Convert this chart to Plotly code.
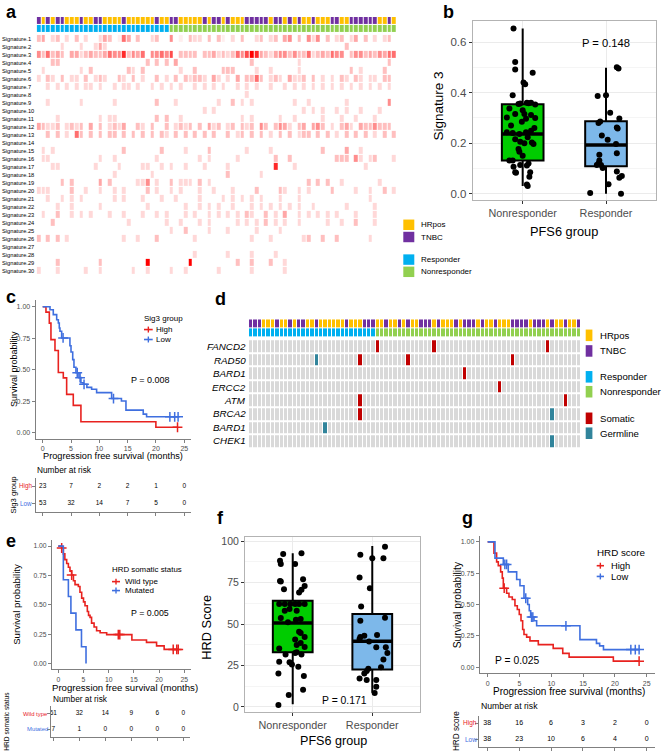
import plotly.graph_objects as go

W, H = 662, 755
FONT = "Liberation Sans, Arial, Helvetica, sans-serif"

# ---------------- colours ----------------
C_HR, C_TN = "#FFC000", "#7030A0"
C_RESP, C_NONR = "#00B0F0", "#92D050"
C_SOM, C_GERM, C_GRAY = "#C00000", "#31849B", "#D9D9D9"
C_RED, C_BLUE = "#E8221F", "#3F6FDF"
C_GBOX, C_BBOX = "#00CC00", "#7DB8EA"

# ---------------- panel a data ----------------
sig_names = [f"Signature.{i}" for i in range(1, 31)]
sig_levels = [
    "3402302030200243016403002300501032203031020300230230450305250302302403020230",
    "0000020002002420000000000000000000000000000000000000000000000000030000000000",
    "5363430442343346558354605565703333033423236579843245535336234365503553435466",
    "0003300000000000000000030303040000000000000003000000000200000000000000000030",
    "0200000002030000000320300000002003000003330000200200000200000000003020000300",
    "2032030220302320032030200302030323320420204033630232042230302020320320220330",
    "0020202020220200202202002020202002020202002020200200202020202020202020202020",
    "0000000000000000000000000000000000000000000020000000000000000000000000000000",
    "0020000002000000200000000300020000000020030202000000002002000000020000000050",
    "0000000000000000000000000000000000020200000000000000000020202002020020002000",
    "0000200000000202200000000303002000000000000202000002002000002000200200020000",
    "4322302323040302324003203003023230304230230323053035420340453020342043353330",
    "0030302063030303303030303032030303030300302303030203030233030302030303020303",
    "0000000000000000000000000000000000000000000000000000000000000000000000000000",
    "0202000000000000003000000030000200003000000020000200000000003000040020000000",
    "0220000000000200200000000200000000202000002000000030030000000003330520230002",
    "0002200000002000020000220020200200020000200000000080002000000000000002000000",
    "0000000000000000200000002000000000000000300000020000000000000000000000000000",
    "0000030300000403000002250200302220302000000000000000000003030300200000002000",
    "2220000300200200202000030200202000200200020000300003200202000030000200200302",
    "0020020202000000202000200020020000200002020202020002000200000000000000200000",
    "0000200200000200000000020000000200202020020002020202020200200000020000020000",
    "0200300202020002002000200202000202002020202032003020400202020202000200020000",
    "0003000000000000000200000002002000202000002020203020200200000200200300020000",
    "0000000000000000000000000000200300002000200000200002000000000000000000000000",
    "3030302000000000002002000300000002000000000002000200000023003003000000200000",
    "0000000000000000000000000000000000000000000000000000000000000000000000000000",
    "0000000000000000000000000000000002000000200002000020000000000000000000000000",
    "0000300000000300000000090000000090000000003003000300200000000000000000000000",
    "2000200000200200000020020000200200000020000002000000200000000000000000000000",
]
N_SAMPLES = 76
a_tumor = "TYTYTTYYYTYYTTYYYYTYYYYYYTYYTTYYYYYTYTTYTYYYTTTTTYTTYTYTYYTYYYTTYYTTTTTTYYTY"
a_n_resp = 28

# ---------------- panel b data ----------------
b_groups = ["Nonresponder", "Responder"]
b_q1 = [0.131, 0.109]
b_med = [0.236, 0.193]
b_q3 = [0.354, 0.287]
b_lo = [0.030, 0.0]
b_hi = [0.654, 0.499]
b_nr_val = [0.654, 0.521, 0.492, 0.479, 0.44, 0.433, 0.39, 0.355, 0.357, 0.36, 0.358, 0.36, 0.353,
            0.337, 0.316, 0.316, 0.312, 0.302, 0.300, 0.285, 0.297, 0.243, 0.240, 0.236, 0.243, 0.249,
            0.223, 0.216, 0.206, 0.203, 0.197, 0.177, 0.166, 0.131, 0.131, 0.114, 0.112, 0.085, 0.107,
            0.085, 0.083, 0.067, 0.036, 0.030, 0.12, 0.15, 0.27, 0.20, 0.33, 0.26]
b_nr_jit = [-0.11, -0.09, -0.09, 0.12, 0.01, 0.03, -0.12, -0.05, -0.03, 0.05, 0.07, 0.10, 0.15,
            -0.16, -0.09, 0.02, 0.10, -0.19, 0.15, -0.01, 0.04, -0.19, -0.12, -0.04, 0.04, 0.10,
            0.06, -0.09, -0.03, 0.11, 0.13, -0.05, -0.04, -0.16, -0.12, -0.03, 0.05, 0.09, -0.11,
            -0.09, -0.08, 0.08, 0.05, 0.06, 0.07, 0.0, -0.14, 0.02, 0.0, 0.14]
b_r_val = [0.501, 0.496, 0.39, 0.387, 0.32, 0.286, 0.298, 0.262, 0.258, 0.23, 0.214, 0.197, 0.16,
           0.154, 0.131, 0.114, 0.114, 0.102, 0.088, 0.07, 0.063, 0.037, 0.003, 0.0, 0.12, 0.28]
b_r_jit = [0.13, 0.15, 0.0, -0.10, 0.05, -0.07, 0.16, 0.13, 0.14, -0.05, 0.02, 0.12, 0.13,
           -0.08, -0.08, -0.11, -0.06, -0.04, 0.13, 0.19, 0.16, 0.03, -0.19, 0.18, -0.09, -0.09]
b_pval = "P = 0.148"

# ---------------- panel c data ----------------
c_high_t = [0, 0.58, 1.17, 1.46, 2.17, 2.76, 3.64, 4.23, 5.4, 6.75, 19.98, 23.8]
c_high_s = [1.0, 0.957, 0.87, 0.739, 0.652, 0.478, 0.435, 0.304, 0.217, 0.087, 0.043, 0.043]
c_high_ct, c_high_cs = [23.8], [0.043]
c_low_t = [0, 1.29, 1.87, 2.47, 2.76, 2.93, 3.05, 3.35, 4.81, 5.0, 5.3, 5.52, 5.87, 6.4, 6.75,
           7.17, 7.8, 8.64, 9.52, 12.17, 13.9, 14.7, 17.75, 18.34, 23.9]
c_low_s = [1.0, 0.976, 0.937, 0.897, 0.871, 0.831, 0.805, 0.752, 0.69, 0.64, 0.58, 0.52, 0.476,
           0.437, 0.397, 0.384, 0.36, 0.345, 0.318, 0.271, 0.252, 0.179, 0.147, 0.126, 0.126]
c_low_ct = [3.6, 6.1, 6.6, 7.3, 12.5, 22.45, 23.3, 23.9]
c_low_cs = [0.752, 0.476, 0.437, 0.384, 0.271, 0.126, 0.126, 0.126]
risk_times = [0, 5, 10, 15, 20, 25]
c_risk_high = [23, 7, 2, 2, 1, 0]
c_risk_low = [53, 32, 14, 7, 5, 0]

# ---------------- panel d data ----------------
d_genes = ["FANCD2", "RAD50", "BARD1", "ERCC2", "ATM", "BRCA2", "BARD1", "CHEK1"]
d_tumor = "TTTYYYTYYTYTTYYTYYYYYYTYYYTTTYYTYYTYTYYTTTYTYYYTYTTTYTYYTYYYTTTTYTTTYTYYTYYT"
d_n_resp = 29
d_somatic = [(0, 29), (0, 42), (0, 68), (1, 25), (1, 36), (1, 60), (2, 49), (3, 57),
             (4, 25), (4, 72), (5, 25)]
d_germline = [(1, 15), (5, 69), (6, 17), (7, 69)]

# ---------------- panel e data ----------------
e_wt_t = [0, 0.67, 1.0, 1.3, 1.66, 2.0, 2.32, 2.65, 3.0, 3.32, 3.98, 4.3, 4.64, 5.0, 5.3, 5.76,
          6.0, 6.3, 6.6, 7.1, 7.6, 8.3, 9.6, 14.6, 17.5, 19.5, 21.0, 23.8]
e_wt_s = [1.0, 0.984, 0.934, 0.885, 0.852, 0.82, 0.787, 0.754, 0.705, 0.672, 0.656, 0.607, 0.557,
          0.525, 0.492, 0.443, 0.41, 0.393, 0.344, 0.311, 0.279, 0.262, 0.246, 0.20, 0.18, 0.15,
          0.12, 0.12]
e_wt_ct = [0.67, 2.65, 11.9, 12.2, 22.8, 23.5, 23.8]
e_wt_cs = [0.984, 0.754, 0.246, 0.246, 0.12, 0.12, 0.12]
e_mut_t = [0, 1.0, 2.0, 2.5, 3.5, 4.6, 5.5]
e_mut_s = [1.0, 0.714, 0.571, 0.429, 0.286, 0.143, 0.0]
e_risk_wt = [61, 32, 14, 9, 6, 0]
e_risk_mut = [7, 1, 0, 0, 0, 0]

# ---------------- panel f data ----------------
f_q1 = [33.0, 22.6]
f_med = [50.6, 39.6]
f_q3 = [64.0, 56.0]
f_lo = [1.6, 8.6]
f_hi = [92.6, 97.0]
f_nr_val = [1.2, 7.2, 10.4, 20.2, 18.6, 27.2, 27, 25.6, 24.2, 31.6, 31.6, 32.6, 35.2, 36.2, 37.4,
            38.6, 40.6, 45.4, 44.6, 42.2, 53.6, 52.6, 53, 58, 59, 58, 62, 62, 62, 62, 62, 62, 71,
            73, 77, 69, 70.6, 75.6, 76, 88.2, 86.2, 86.2, 92.2, 92.6, 51, 33]
f_nr_jit = [-0.18, -0.05, 0.13, -0.18, 0.14, -0.17, -0.04, -0.01, 0.07, -0.09, 0.11, 0.03, -0.17,
            0.15, 0.05, 0.10, 0.03, 0.08, 0.10, 0.15, -0.15, 0.04, 0.10, -0.10, -0.04, 0.05, -0.17,
            -0.10, -0.03, 0.03, 0.08, 0.15, -0.11, 0.15, 0.13, 0.08, 0.11, -0.15, -0.16, -0.16,
            -0.15, 0.03, -0.12, 0.11, -0.06, 0.05]
f_r_val = [96.6, 89.6, 91.8, 89.6, 78, 71.6, 60.6, 52, 53.8, 41, 43, 39.4, 43.4, 42.2, 36, 36,
           32.6, 28.6, 24, 23, 21.6, 20.2, 17.2, 16.2, 16.2, 12.2, 8.4]
f_r_jit = [0.16, 0.14, -0.15, 0.0, -0.16, -0.03, -0.14, -0.15, 0.16, -0.16, -0.10, -0.04, 0.06,
           -0.15, 0.05, 0.17, 0.19, 0.14, 0.11, -0.05, -0.07, -0.10, -0.16, -0.07, 0.05, 0.05, 0.03]
f_pval = "P = 0.171"

# ---------------- panel g data ----------------
g_high_t = [0, 0.99, 1.41, 1.67, 2.04, 2.3, 2.46, 2.98, 3.35, 3.87, 4.29, 4.66, 4.97, 5.24, 5.5,
            5.71, 6.13, 6.65, 7.96, 10.3, 11.8, 12.8, 19.75, 23.8]
g_high_s = [1.0, 0.91, 0.84, 0.81, 0.76, 0.71, 0.63, 0.59, 0.56, 0.54, 0.49, 0.46, 0.42, 0.37,
            0.30, 0.26, 0.24, 0.21, 0.18, 0.15, 0.11, 0.08, 0.048, 0.048]
g_high_ct, g_high_cs = [2.6, 23.8], [0.63, 0.048]
g_low_t = [0, 1.15, 2.46, 3.24, 4.56, 5.08, 5.71, 6.29, 6.54, 6.76, 7.28, 7.7, 14.5, 17.1, 17.6,
           18.2, 23.8]
g_low_s = [1.0, 0.87, 0.82, 0.76, 0.70, 0.65, 0.55, 0.50, 0.45, 0.40, 0.37, 0.33, 0.22, 0.19,
           0.17, 0.14, 0.14]
g_low_ct = [2.7, 2.98, 5.99, 6.9, 7.1, 12.3, 22.5, 23.2, 23.8]
g_low_cs = [0.82, 0.82, 0.55, 0.40, 0.40, 0.33, 0.14, 0.14, 0.14]
g_risk_high = [38, 16, 6, 3, 2, 0]
g_risk_low = [38, 23, 10, 6, 4, 0]

# =====================================================================
fig = go.Figure()
annotations, shapes = [], []
layout = dict(width=W, height=H, margin=dict(l=0, r=0, t=0, b=0),
              paper_bgcolor="white", plot_bgcolor="white", showlegend=False,
              font=dict(family=FONT, color="black"))


def dx(a, b):
    return [a / W, b / W]


def dy(top, bot):
    return [1 - bot / H, 1 - top / H]


def axkey(n, c):
    return f"{c}axis" if n == 1 else f"{c}axis{n}"


def ref(n):
    return ("x", "y") if n == 1 else (f"x{n}", f"y{n}")


def set_axes(n, xdom, ydom, xopt, yopt):
    xr, yr = ref(n)
    base = dict(showgrid=False, zeroline=False, fixedrange=True)
    layout[axkey(n, "x")] = dict(base, domain=dx(*xdom), anchor=yr, **xopt)
    layout[axkey(n, "y")] = dict(base, domain=dy(*ydom), anchor=xr, **yopt)


def ann(text, x, y, size, color="black", xanchor="center", yanchor="middle", angle=0,
        bold=False):
    if bold:
        text = f"<b>{text}</b>"
    annotations.append(dict(text=text, x=x / W, y=1 - y / H, xref="paper", yref="paper",
                            showarrow=False, xanchor=xanchor, yanchor=yanchor, textangle=angle,
                            borderpad=0,
                            font=dict(size=size, color=color, family=FONT)))


def rect(x0, y0, x1, y1, color):
    shapes.append(dict(type="rect", xref="paper", yref="paper", x0=x0 / W, x1=x1 / W,
                       y0=1 - y1 / H, y1=1 - y0 / H, fillcolor=color, line=dict(width=0)))


def seg(x0, y0, x1, y1, color, width):
    shapes.append(dict(type="line", xref="paper", yref="paper", x0=x0 / W, x1=x1 / W,
                       y0=1 - y0 / H, y1=1 - y1 / H, line=dict(color=color, width=width)))


def ann_scale(colors):
    cs = []
    n = len(colors)
    for i, c in enumerate(colors):
        cs.append([i / n, c])
        cs.append([(i + 1) / n, c])
    return cs


HIDDEN = dict(visible=False)
cols = list(range(N_SAMPLES))

# ---------------- panel a ----------------
Z = [[int(ch) for ch in r.ljust(N_SAMPLES, "0")[:N_SAMPLES]] for r in sig_levels]
heat_scale = [[0, "#FFFFFF"], [0.11, "#FFEEEE"], [0.22, "#FFD8D8"], [0.33, "#FFC0C0"],
              [0.44, "#FFA8A8"], [0.56, "#FF8C8C"], [0.67, "#FF6E6E"], [0.78, "#FF4C4C"],
              [0.89, "#FF2828"], [1, "#FF0000"]]
set_axes(1, (36.7, 396.7), (32, 273.3), dict(HIDDEN, range=[-0.5, N_SAMPLES - 0.5]),
         dict(HIDDEN, range=[30.5, 0.5]))
fig.add_trace(go.Heatmap(z=Z, x=cols, y=list(range(1, 31)), colorscale=heat_scale,
                         zmin=0, zmax=9, showscale=False, xgap=1, ygap=1, hoverinfo="skip",
                         xaxis="x", yaxis="y"))
tum_a = [0 if ch == "Y" else 1 for ch in a_tumor.ljust(N_SAMPLES, "Y")[:N_SAMPLES]]
resp_a = [2 if i < a_n_resp else 3 for i in cols]
four = ann_scale([C_HR, C_TN, C_RESP, C_NONR])
set_axes(2, (36.7, 396.7), (14, 30), dict(HIDDEN, range=[-0.5, N_SAMPLES - 0.5]),
         dict(HIDDEN, range=[1.5, -0.5]))
fig.add_trace(go.Heatmap(z=[tum_a, resp_a], x=cols, y=[0, 1], colorscale=four, zmin=-0.5, zmax=3.5,
                         showscale=False, xgap=1, ygap=1, hoverinfo="skip", xaxis="x2", yaxis="y2"))
for i, name in enumerate(sig_names):
    ann(name, 1, 36.1 + 8.045 * i, 5.7, xanchor="left")
for label, col, y0 in [("HRpos", C_HR, 217.7), ("TNBC", C_TN, 230), ("Responder", C_RESP, 252.7),
                       ("Nonresponder", C_NONR, 265)]:
    rect(403.3, y0, 414.3, y0 + 10.5, col)
    ann(label, 419.5, y0 + 5.3, 8, xanchor="left")
ann("a", 5, 9, 18, bold=True, xanchor="left")

# ---------------- panel b / f (box plots) ----------------
def box_panel(n, xdom, ydom, yrange, ytick, yticktext, yminor, q1, med, q3, lo, hi,
              nr_val, nr_jit, r_val, r_jit, tickfs, xtickfs):
    xr, yr = ref(n)
    frame = dict(showline=True, mirror=True, linecolor="#B3B3B3", linewidth=1,
                 ticks="outside", ticklen=3, tickcolor="#333333", showgrid=True,
                 gridcolor="#EBEBEB", gridwidth=1)
    set_axes(n, xdom, ydom,
             dict(frame, range=[0.4, 2.6], tickvals=[1, 2], ticktext=b_groups,
                  tickfont=dict(size=xtickfs, color="#4D4D4D")),
             dict(frame, range=yrange, tickvals=ytick, ticktext=yticktext,
                  tickfont=dict(size=tickfs, color="#4D4D4D"),
                  minor=dict(tickvals=yminor, showgrid=True, gridcolor="#F5F5F5", ticks="")))
    for k, fill in enumerate([C_GBOX, C_BBOX]):
        pos = k + 1
        fig.add_trace(go.Box(x=[pos], q1=[q1[k]], median=[med[k]], q3=[q3[k]],
                             lowerfence=[lo[k]], upperfence=[hi[k]], width=0.5, whiskerwidth=0,
                             fillcolor=fill, line=dict(color="black", width=2),
                             boxpoints=False, hoverinfo="skip", xaxis=xr, yaxis=yr))
        fig.add_trace(go.Scatter(x=[pos - 0.25, pos + 0.25], y=[med[k], med[k]], mode="lines",
                                 line=dict(color="black", width=3.5), hoverinfo="skip",
                                 xaxis=xr, yaxis=yr))
    fig.add_trace(go.Scatter(x=[1 + j for j in nr_jit], y=nr_val, mode="markers",
                             marker=dict(color="black", size=6), hoverinfo="skip",
                             xaxis=xr, yaxis=yr))
    fig.add_trace(go.Scatter(x=[2 + j for j in r_jit], y=r_val, mode="markers",
                             marker=dict(color="black", size=6), hoverinfo="skip",
                             xaxis=xr, yaxis=yr))


box_panel(3, (472.7, 656), (18.3, 198.3), [-0.026, 0.683], [0, 0.2, 0.4, 0.6],
          ["0.0", "0.2", "0.4", "0.6"], [0.1, 0.3, 0.5], b_q1, b_med, b_q3, b_lo, b_hi,
          b_nr_val, b_nr_jit, b_r_val, b_r_jit, 11.5, 10.8)
ann("Signature 3", 438, 104, 13.5, angle=-90)
ann("PFS6 group", 564, 229.5, 12.8)
ann(b_pval, 606, 40, 11.2)
ann("b", 442, 9, 18, bold=True, xanchor="left")

box_panel(10, (245, 420), (537.3, 712.7), [-3.0, 102.2], [0, 25, 50, 75, 100],
          ["0", "25", "50", "75", "100"], [12.5, 37.5, 62.5, 87.5], f_q1, f_med, f_q3, f_lo, f_hi,
          f_nr_val, f_nr_jit, f_r_val, f_r_jit, 10.5, 10.8)
ann("HRD Score", 207, 628, 12.8, angle=-90)
ann("PFS6 group", 333, 742, 12.6)
ann(f_pval, 344, 701.7, 10.4)
ann("f", 216, 518, 18, bold=True, xanchor="left")

# ---------------- KM panels ----------------
def km_panel(n, xdom, ydom, curves, tickfs, lw=1.6):
    xr, yr = ref(n)
    cl = dict(showline=True, linecolor="#808080", linewidth=1, ticks="outside", ticklen=3,
              tickcolor="#808080", tickfont=dict(size=tickfs, color="#4D4D4D"))
    set_axes(n, xdom, ydom,
             dict(cl, range=[-1.25, 26.25], tickvals=risk_times),
             dict(cl, range=[-0.05, 1.05], tickvals=[0, 0.25, 0.5, 0.75, 1.0],
                  ticktext=["0.00", "0.25", "0.50", "0.75", "1.00"]))
    for t, s, ct, cs, col in curves:
        fig.add_trace(go.Scatter(x=t, y=s, mode="lines", line=dict(shape="hv", color=col, width=lw),
                                 hoverinfo="skip", xaxis=xr, yaxis=yr))
        if ct:
            fig.add_trace(go.Scatter(x=ct, y=cs, mode="markers",
                                     marker=dict(symbol="cross-thin", size=7, color=col,
                                                 line=dict(color=col, width=1.5)),
                                     hoverinfo="skip", xaxis=xr, yaxis=yr))


def risk_panel(n, xdom, ydom, xrange, yrange, rows, fs):
    xr, yr = ref(n)
    cl = dict(showline=True, linecolor="#808080", linewidth=1, ticks="outside", ticklen=3,
              tickcolor="#808080", showticklabels=False)
    set_axes(n, xdom, ydom, dict(cl, range=xrange, tickvals=risk_times),
             dict(cl, range=yrange, tickvals=[1, 2]))
    for yv, vals in rows:
        fig.add_trace(go.Scatter(x=risk_times, y=[yv] * len(vals), mode="text",
                                 text=[str(v) for v in vals],
                                 textfont=dict(size=fs, color="black", family=FONT),
                                 hoverinfo="skip", xaxis=xr, yaxis=yr))


def km_legend(title, x0, ty, items, tfs, ifs, lx0, lx1, txx):
    ann(title, x0, ty, tfs, xanchor="left")
    for label, col, yy in items:
        seg(lx0, yy, lx1, yy, col, 1.6)
        cx = (lx0 + lx1) / 2
        seg(cx, yy - 3, cx, yy + 3, col, 1.4)
        ann(label, txx, yy, ifs, xanchor="left")


# panel c
km_panel(4, (35.6, 191.4), (299, 438.3),
         [(c_high_t, c_high_s, c_high_ct, c_high_cs, C_RED),
          (c_low_t, c_low_s, c_low_ct, c_low_cs, C_BLUE)], 7)
risk_panel(5, (35.6, 191.4), (478, 511.7), [-1.25, 26.25], [0.46, 2.48],
           [(2, c_risk_high), (1, c_risk_low)], 6.5)
ann("Survival probability", 14, 368, 9, angle=-90)
ann("Progression free survival (months)", 113.5, 455, 9.2)
ann("P = 0.008", 150, 379.3, 9)
ann("Number at risk", 35.5, 469.5, 8.3, xanchor="left")
ann("High", 33, 486, 6.3, color=C_RED, xanchor="right")
ann("Low", 33, 502.7, 6.3, color=C_BLUE, xanchor="right")
ann("Sig3 group", 13, 495, 7.6, angle=-90)
km_legend("Sig3 group", 142.5, 316.7, [("High", C_RED, 328.3), ("Low", C_BLUE, 338.3)],
          8, 8, 144, 152.7, 155)
ann("c", 5, 296, 18, bold=True, xanchor="left")

# panel e
km_panel(8, (52, 190.6), (540.1, 669.9),
         [(e_wt_t, e_wt_s, e_wt_ct, e_wt_cs, C_RED),
          (e_mut_t, e_mut_s, [], [], C_BLUE)], 6.8)
risk_panel(9, (50.7, 189.8), (706.7, 738.3), [-0.5, 26.25], [0.47, 2.48],
           [(2, e_risk_wt), (1, e_risk_mut)], 6.5)
ann("Survival probability", 17, 605, 9.6, angle=-90)
ann("Progression free survival (months)", 125, 688.5, 9.6)
ann("P = 0.005", 149.5, 613.3, 8.8)
ann("Number at risk", 51.5, 699.5, 8.3, xanchor="left")
ann("Wild type", 48.5, 714.3, 5.9, color=C_RED, xanchor="right")
ann("Mutated", 48.5, 730, 5.9, color=C_BLUE, xanchor="right")
ann("HRD somatic status", 6.5, 722, 6.6, angle=-90)
km_legend("HRD somatic status", 111, 569.3,
          [("Wild type", C_RED, 581.7), ("Mutated", C_BLUE, 590.7)],
          7.9, 8, 112, 120, 124)
ann("e", 5, 541, 18, bold=True, xanchor="left")

# panel g
km_panel(11, (479.7, 654.7), (535.4, 674),
         [(g_high_t, g_high_s, g_high_ct, g_high_cs, C_RED),
          (g_low_t, g_low_s, g_low_ct, g_low_cs, C_BLUE)], 7)
risk_panel(12, (479.3, 654.7), (716.7, 748.3), [-1.25, 26.25], [0.48, 2.46],
           [(2, g_risk_high), (1, g_risk_low)], 7)
ann("Survival probability", 457.5, 605, 10.3, angle=-90)
ann("Progression free survival (months)", 569, 692.5, 10)
ann("P = 0.025", 517, 661, 10.3)
ann("Number at risk", 479.5, 706.7, 8.7, xanchor="left")
ann("High", 477.7, 724, 6.5, color=C_RED, xanchor="right")
ann("Low", 477.7, 740, 6.5, color=C_BLUE, xanchor="right")
ann("HRD score", 456, 732, 8.2, angle=-90)
km_legend("HRD score", 596, 552.5, [("High", C_RED, 565.7), ("Low", C_BLUE, 576.5)],
          9.8, 9.4, 596.7, 604, 610)
ann("g", 461, 518, 18, bold=True, xanchor="left")

# ---------------- panel d ----------------
tum_d = [0 if ch == "Y" else 1 for ch in d_tumor.ljust(N_SAMPLES, "Y")[:N_SAMPLES]]
resp_d = [2 if i < d_n_resp else 3 for i in cols]
set_axes(6, (249, 581), (318, 336), dict(HIDDEN, range=[-0.5, N_SAMPLES - 0.5]),
         dict(HIDDEN, range=[1.5, -0.5]))
fig.add_trace(go.Heatmap(z=[tum_d, resp_d], x=cols, y=[0, 1], colorscale=four, zmin=-0.5, zmax=3.5,
                         showscale=False, xgap=1, ygap=1, hoverinfo="skip", xaxis="x6", yaxis="y6"))
G = [[0] * N_SAMPLES for _ in d_genes]
for r, c in d_somatic:
    G[r][c] = 1
for r, c in d_germline:
    G[r][c] = 2
set_axes(7, (249, 581), (338, 447.5), dict(HIDDEN, range=[-0.5, N_SAMPLES - 0.5]),
         dict(HIDDEN, range=[len(d_genes) - 0.5, -0.5]))
fig.add_trace(go.Heatmap(z=G, x=cols, y=list(range(len(d_genes))),
                         colorscale=ann_scale([C_GRAY, C_SOM, C_GERM]), zmin=-0.5, zmax=2.5,
                         showscale=False, xgap=1, ygap=2, hoverinfo="skip", xaxis="x7", yaxis="y7"))
for i, g in enumerate(d_genes):
    ann(f"<i>{g}</i>", 246.5, 345.7 + 13.45 * i, 9.8, xanchor="right")
for label, col, y0 in [("HRpos", C_HR, 328.3), ("TNBC", C_TN, 344), ("Responder", C_RESP, 370),
                       ("Nonresponder", C_NONR, 385), ("Somatic", C_SOM, 411.7),
                       ("Germline", C_GERM, 426.7)]:
    rect(585.7, y0, 592.4, y0 + 11.6, col)
    ann(label, 598.5, y0 + 5.8, 9.6, xanchor="left")
ann("d", 214, 298, 18, bold=True, xanchor="left")

layout["annotations"] = annotations
layout["shapes"] = shapes
fig.update_layout(**layout)
fig.write_html(
    "out.html",
    config={"displayModeBar": False, "staticPlot": True},
    post_script="document.body.style.margin='0';document.body.style.padding='0';"
                "document.body.style.overflow='hidden';"
                "document.documentElement.style.overflow='hidden';",
)
